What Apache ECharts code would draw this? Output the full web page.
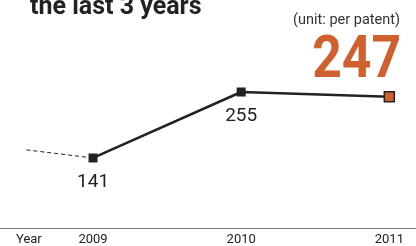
<!DOCTYPE html>
<html>
<head>
<meta charset="UTF-8">
<title>patent chart</title>
<script src="https://cdn.jsdelivr.net/npm/echarts@6/dist/echarts.min.js"></script>
<style>
body { margin: 0; padding: 0; background: #fff; }
#main { width: 416px; height: 246px; }
</style>
</head>
<body>
<div id="main"></div>
<script>
// data
var years = [2009, 2010, 2011];
var values = [141, 255, 247];
var trendStart = [2008.55, 155]; // dashed lead-in from the earlier year
var yearLabels = ['2009', '2010', '2011'];
var headline = '247';

var chart = echarts.init(document.getElementById('main'));

var mainData = years.map(function (y, i) {
    var item = { value: [y, values[i]] };
    if (i === years.length - 1) {
        item.symbolSize = 10;
        item.itemStyle = { color: '#d0612f', borderColor: '#222', borderWidth: 1.5 };
        item.label = { show: false };
    }
    return item;
});

var option = {
    animation: false,
    grid: { left: 0, right: 0, top: 0, bottom: 18 },
    xAxis: {
        type: 'value',
        min: 2008.372,
        max: 2011.18,
        splitLine: { show: false },
        axisTick: { show: false },
        axisLine: { show: true, lineStyle: { color: '#777', width: 1 } },
        axisLabel: {
            customValues: years,
            formatter: function (v) { return yearLabels[years.indexOf(v)] || ''; },
            color: '#222',
            fontFamily: 'Roboto',
            fontSize: 13,
            margin: 5
        }
    },
    yAxis: {
        type: 'value',
        min: 20,
        max: 414,
        show: false
    },
    graphic: [
        { type: 'text', x: 30, y: -5, style: { text: 'the last 3 years', font: 'bold 25px Roboto', fill: '#222' } },
        { type: 'text', x: 400, y: 13, style: { text: '(unit: per patent)', font: '14.5px Roboto', fill: '#333', textAlign: 'right' } },
        { type: 'text', x: 401, y: 32, scaleX: 0.86, style: { text: headline, font: 'bold 60px Roboto', fill: '#d0612f', textAlign: 'right' } },
        { type: 'text', x: 16, y: 233, style: { text: 'Year', font: '13px Roboto', fill: '#222' } }
    ],
    series: [
        {
            type: 'line',
            data: [trendStart, [years[0], values[0]]],
            showSymbol: false,
            lineStyle: { color: '#222', width: 1, type: [4, 3] },
            z: 1
        },
        {
            type: 'line',
            data: mainData,
            symbol: 'rect',
            symbolSize: 9,
            itemStyle: { color: '#222' },
            lineStyle: { color: '#222', width: 2.5 },
            label: {
                show: true,
                position: 'bottom',
                distance: 10,
                color: '#222',
                fontFamily: 'Roboto',
                fontSize: 19,
                formatter: function (p) { return p.value[1]; }
            },
            z: 3
        }
    ]
};
chart.setOption(option);
</script>
</body>
</html>
